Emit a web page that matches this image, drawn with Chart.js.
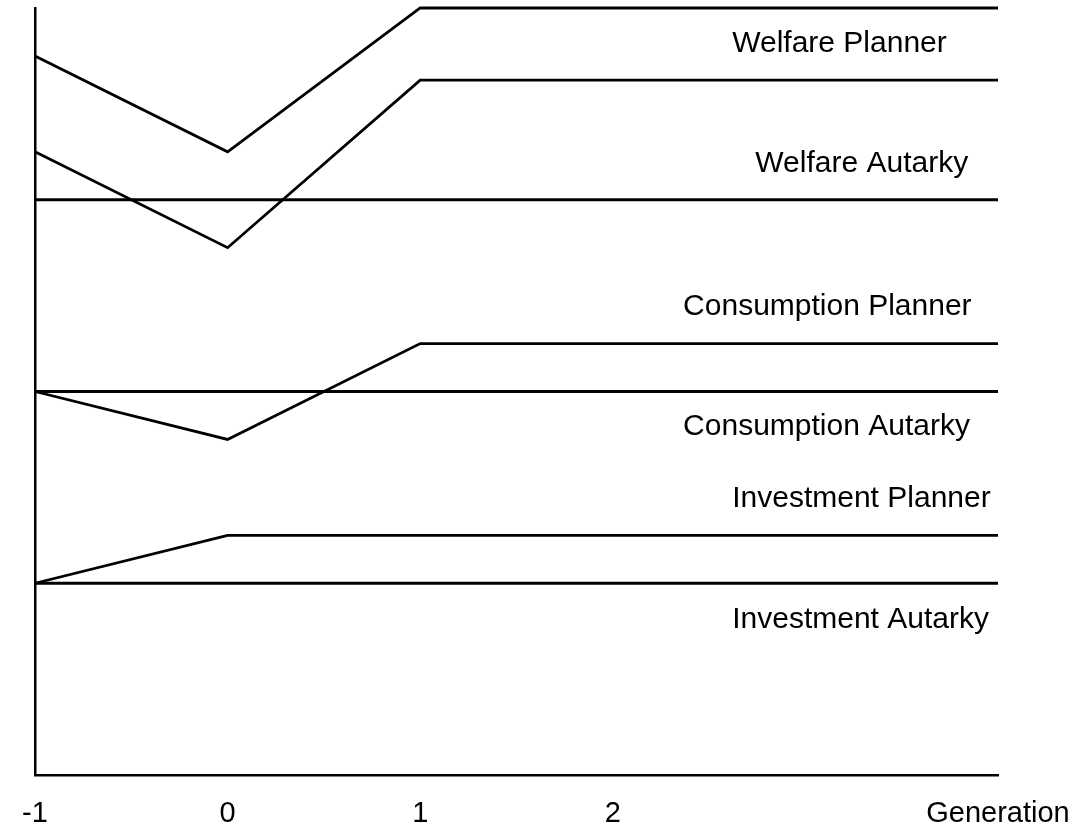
<!DOCTYPE html>
<html>
<head>
<meta charset="utf-8">
<script src="https://cdn.jsdelivr.net/npm/chart.js@4"></script>
<style>
  html, body { margin: 0; padding: 0; background: #fff; }
  #wrap { width: 1079px; height: 829px; }
</style>
</head>
<body>
<div id="wrap"><canvas id="genChart"></canvas></div>
<script>
// Generations on the x axis
const generations = [-1, 0, 1, 4];

// Series values (arbitrary index units)
const welfarePlanner = [93.75, 81.25, 100, 100];
const welfarePlannerOld = [81.25, 68.75, 90.6, 90.6];
const welfareAutarky = [75, 75, 75, 75];
const consumptionPlanner = [50, 43.75, 56.25, 56.25];
const consumptionAutarky = [50, 50, 50, 50];
const investmentPlanner = [25, 31.25, 31.25, 31.25];
const investmentAutarky = [25, 25, 25, 25];

// Tick labels on the x axis
const tickValues = [-1, 0, 1, 2, 4];
const tickLabels = ['-1', '0', '1', '2', 'Generation'];

// Text labels placed inside the plot (data units)
const seriesLabels = ['Welfare Planner', 'Welfare Autarky', 'Consumption Planner',
  'Consumption Autarky', 'Investment Planner', 'Investment Autarky'];
const labelX = [2.62, 2.74, 2.365, 2.365, 2.62, 2.62];
const labelY = [95.3, 79.7, 61.0, 45.4, 36.0, 20.3];

const FONT = '"Liberation Sans", Arial, Helvetica, sans-serif';

function toPoints(values) {
    return generations.map((g, i) => ({ x: g, y: values[i] }));
}

function makeSet(label, values) {
    return {
        label: label,
        data: toPoints(values),
        borderColor: '#000',
        borderWidth: 2.8,
        pointRadius: 0,
        fill: false,
        tension: 0,
        clip: false
    };
}

// draws the series names next to the lines
const inlineLabels = {
    id: 'inlineLabels',
    afterDatasetsDraw(chart) {
        const ctx = chart.ctx;
        const xs = chart.scales.x, ys = chart.scales.y;
        ctx.save();
        ctx.fillStyle = '#000';
        ctx.font = '30px ' + FONT;
        ctx.textAlign = 'left';
        ctx.textBaseline = 'middle';
        seriesLabels.forEach((t, i) => {
            ctx.fillText(t, xs.getPixelForValue(labelX[i]), ys.getPixelForValue(labelY[i]));
        });
        ctx.restore();
    }
};

new Chart(document.getElementById('genChart'), {
    type: 'line',
    data: {
        datasets: [
            makeSet('Welfare Planner', welfarePlanner),
            makeSet('Welfare Planner (old)', welfarePlannerOld),
            makeSet('Welfare Autarky', welfareAutarky),
            makeSet('Consumption Planner', consumptionPlanner),
            makeSet('Consumption Autarky', consumptionAutarky),
            makeSet('Investment Planner', investmentPlanner),
            makeSet('Investment Autarky', investmentAutarky)
        ]
    },
    options: {
        responsive: true,
        maintainAspectRatio: false,
        animation: false,
        layout: { padding: { left: 35, right: 81, top: 8, bottom: 0 } },
        plugins: {
            legend: { display: false },
            tooltip: { enabled: false }
        },
        scales: {
            x: {
                type: 'linear',
                min: -1,
                max: 4,
                afterBuildTicks: axis => { axis.ticks = tickValues.map(v => ({ value: v })); },
                afterFit: axis => {
                    axis.height = 54;
                    axis.paddingLeft = 0;
                    axis.paddingRight = 0;
                },
                ticks: {
                    autoSkip: false,
                    maxRotation: 0,
                    padding: 22,
                    color: '#000',
                    font: { family: FONT, size: 29 },
                    callback: v => tickLabels[tickValues.indexOf(v)]
                },
                grid: { display: false, drawTicks: false },
                border: { display: true, color: '#000', width: 2.5 }
            },
            y: {
                min: 0,
                max: 100,
                ticks: { display: false },
                grid: { display: false, drawTicks: false },
                border: { display: true, color: '#000', width: 2.5 }
            }
        }
    },
    plugins: [inlineLabels]
});
</script>
</body>
</html>
